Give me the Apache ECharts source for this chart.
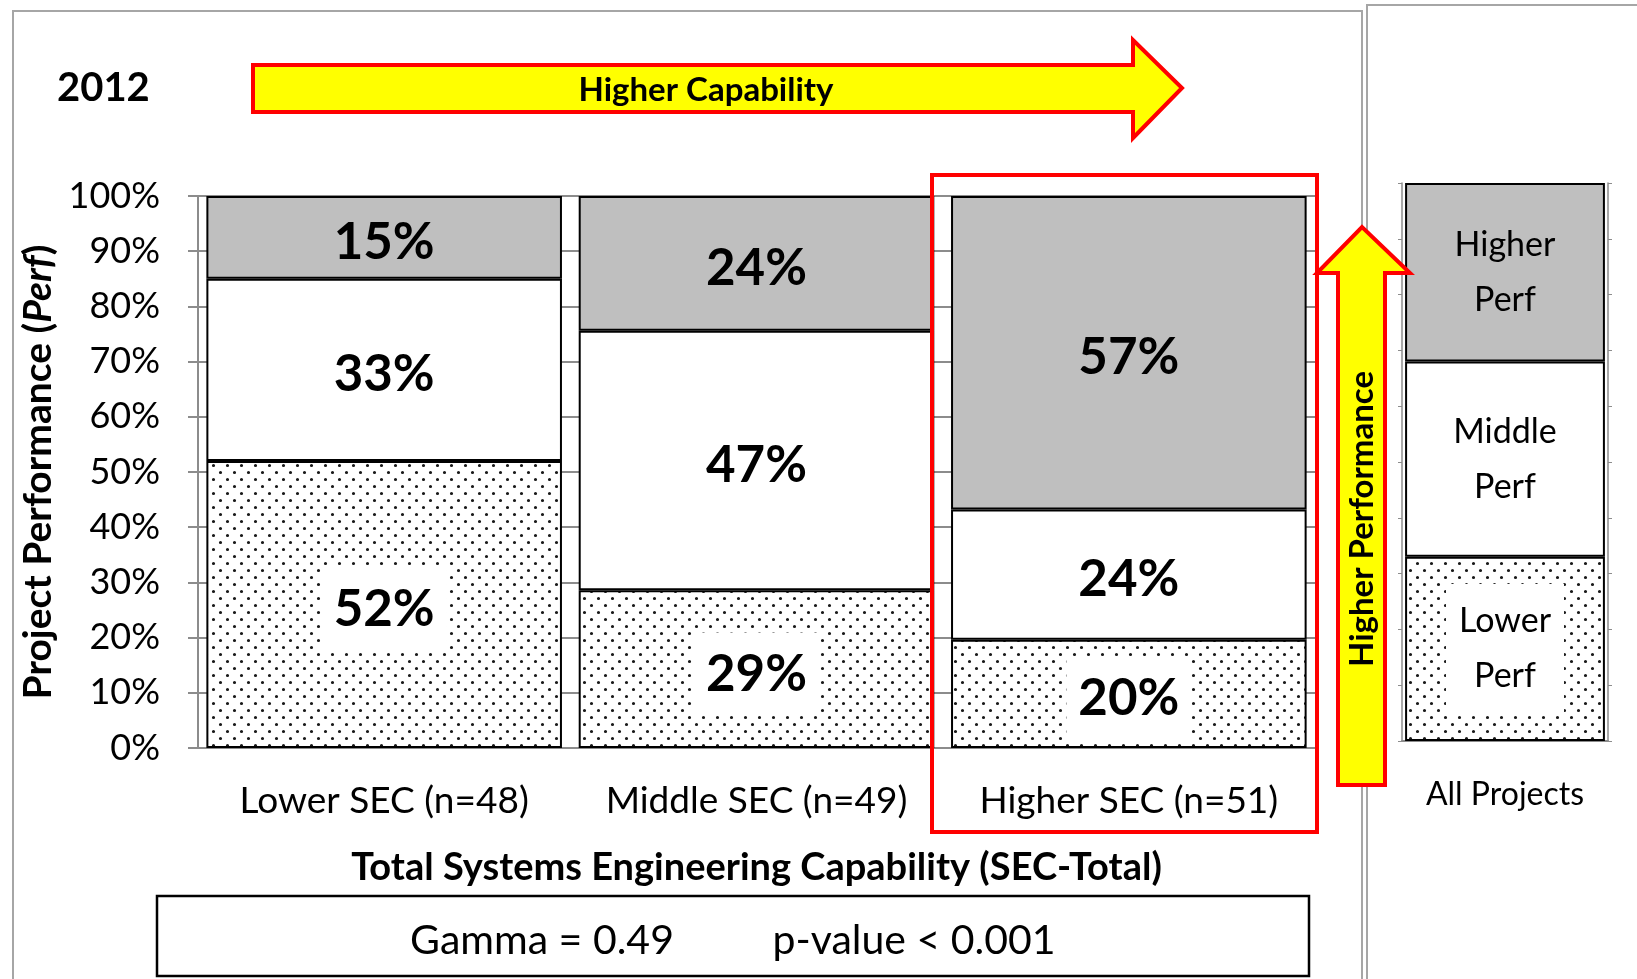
<!DOCTYPE html>
<html>
<head>
<meta charset="utf-8">
<script src="https://cdn.jsdelivr.net/npm/echarts@6/dist/echarts.min.js"></script>
<style>
  body { margin: 0; background: #fff; }
  #chart { width: 1637px; height: 979px; }
</style>
</head>
<body>
<div id="chart"></div>
<script>
  // SEC groups and the share of projects in each performance band (%)
  const categories = ['Lower SEC (n=48)', 'Middle SEC (n=49)', 'Higher SEC (n=51)'];
  const lowerPerf = [52, 28.6, 19.6];
  const middlePerf = [33, 47, 23.6];
  const higherPerf = [15, 24.4, 56.8];

  const allCategories = ['All Projects'];
  const allLower = [33];
  const allMiddle = [35];
  const allHigher = [32];
  const allLabels = ['Lower\nPerf', 'Middle\nPerf', 'Higher\nPerf'];

  const font = 'Lato';
  const gray = '#8c8c8c';

  // dotted fill used for the lower performance band
  const dots = document.createElement('canvas');
  dots.width = 14;
  dots.height = 14;
  const ctx = dots.getContext('2d');
  ctx.fillStyle = '#fff';
  ctx.fillRect(0, 0, 14, 14);
  ctx.fillStyle = '#1a1a1a';
  ctx.beginPath();
  ctx.arc(3.5, 3.5, 1.6, 0, Math.PI * 2);
  ctx.arc(10.5, 10.5, 1.6, 0, Math.PI * 2);
  ctx.fill();
  const dotted = { image: dots, repeat: 'repeat' };

  const pctLabel = (bg) => ({
    show: true,
    position: 'inside',
    offset: [0, 5],
    formatter: (p) => Math.round(p.value) + '%',
    fontFamily: font,
    fontSize: 51,
    fontWeight: 'bold',
    color: '#000',
    backgroundColor: bg,
    padding: [16, 12]
  });

  const textLabel = (bg, pad) => ({
    show: true,
    position: 'inside',
    formatter: (p) => allLabels[p.seriesIndex - 3],
    fontFamily: font,
    fontSize: 34,
    lineHeight: 55,
    color: '#000',
    backgroundColor: bg,
    padding: pad
  });

  const barStyle = (color) => ({ color: color, borderColor: '#000', borderWidth: 2 });

  const options = {
    backgroundColor: '#fff',
    animation: false,
    grid: [
      { left: 198, top: 196, width: 1117, height: 552 },
      { left: 1402, top: 183, width: 206, height: 558 }
    ],
    xAxis: [
      {
        type: 'category',
        gridIndex: 0,
        data: categories,
        axisLine: { lineStyle: { color: gray, width: 2 } },
        axisTick: { length: 12, lineStyle: { color: gray, width: 2 } },
        axisLabel: { interval: 0, hideOverlap: false, margin: 35, fontFamily: font, fontSize: 37, color: '#000' },
        name: 'Total Systems Engineering Capability (SEC-Total)',
        nameLocation: 'middle',
        nameGap: 101,
        nameTextStyle: { fontFamily: font, fontSize: 38, fontWeight: 'bold', color: '#000' }
      },
      {
        type: 'category',
        gridIndex: 1,
        data: allCategories,
        axisLine: { lineStyle: { color: gray, width: 2 } },
        axisTick: { length: 14, lineStyle: { color: gray, width: 2 } },
        axisLabel: { interval: 0, margin: 38, fontFamily: font, fontSize: 32, color: '#000' }
      }
    ],
    yAxis: [
      {
        type: 'value',
        gridIndex: 0,
        min: 0,
        max: 100,
        interval: 10,
        axisLine: { show: true, lineStyle: { color: gray, width: 2 } },
        axisTick: { show: true, length: 10, lineStyle: { color: gray, width: 2 } },
        splitLine: { lineStyle: { color: gray, width: 2 } },
        axisLabel: { formatter: '{value}%', margin: 38, fontFamily: font, fontSize: 36, color: '#000' },
        name: 'Project Performance ({i|Perf})',
        nameLocation: 'middle',
        nameRotate: 90,
        nameGap: 129,
        nameTextStyle: {
          fontFamily: font,
          fontSize: 39,
          fontWeight: 'bold',
          color: '#000',
          rich: { i: { fontFamily: font, fontSize: 39, fontWeight: 'bold', fontStyle: 'italic', color: '#000' } }
        }
      },
      {
        type: 'value',
        gridIndex: 1,
        min: 0,
        max: 100,
        interval: 10,
        axisLine: { show: true, lineStyle: { color: gray, width: 1.5 } },
        axisTick: { show: true, length: 4, lineStyle: { color: gray } },
        splitLine: { show: false },
        axisLabel: { show: false }
      },
      {
        type: 'value',
        gridIndex: 1,
        position: 'right',
        min: 0,
        max: 100,
        interval: 10,
        axisLine: { show: true, lineStyle: { color: gray, width: 1.5 } },
        axisTick: { show: true, length: 4, lineStyle: { color: gray } },
        splitLine: { show: false },
        axisLabel: { show: false }
      }
    ],
    series: [
      {
        name: 'Lower Perf', type: 'bar', stack: 'sec', barCategoryGap: '4.5%',
        data: lowerPerf, itemStyle: barStyle(dotted), label: pctLabel('#fff')
      },
      {
        name: 'Middle Perf', type: 'bar', stack: 'sec',
        data: middlePerf, itemStyle: barStyle('#fff'), label: pctLabel(null)
      },
      {
        name: 'Higher Perf', type: 'bar', stack: 'sec',
        data: higherPerf, itemStyle: barStyle('#bfbfbf'), label: pctLabel(null)
      },
      {
        name: 'All Lower', type: 'bar', stack: 'all', xAxisIndex: 1, yAxisIndex: 1, barCategoryGap: '3%',
        data: allLower, itemStyle: barStyle(dotted), label: textLabel('#fff', [10, 13])
      },
      {
        name: 'All Middle', type: 'bar', stack: 'all', xAxisIndex: 1, yAxisIndex: 1,
        data: allMiddle, itemStyle: barStyle('#fff'), label: textLabel(null, 0)
      },
      {
        name: 'All Higher', type: 'bar', stack: 'all', xAxisIndex: 1, yAxisIndex: 1,
        data: allHigher, itemStyle: barStyle('#bfbfbf'), label: textLabel(null, 0)
      }
    ],
    graphic: [
      // panel frames
      { type: 'rect', shape: { x: 13, y: 11, width: 1349, height: 1000 }, style: { fill: null, stroke: '#a6a6a6', lineWidth: 2 }, z: 1 },
      { type: 'rect', shape: { x: 1367, y: 5, width: 300, height: 1000 }, style: { fill: null, stroke: '#a6a6a6', lineWidth: 2 }, z: 1 },
      { type: 'text', left: 57, top: 68, style: { text: '2012', fontFamily: font, fontSize: 40, fontWeight: 'bold', fill: '#000' } },
      // higher capability arrow
      {
        type: 'polygon', z: 10,
        shape: { points: [[253, 65], [1133, 65], [1133, 40], [1182, 88], [1133, 138], [1133, 112], [253, 112]] },
        style: { fill: '#ffff00', stroke: '#ff0000', lineWidth: 4 }
      },
      {
        type: 'text', z: 11, x: 706, y: 90,
        style: { text: 'Higher Capability', align: 'center', verticalAlign: 'middle', fontFamily: font, fontSize: 33, fontWeight: 'bold', fill: '#000' }
      },
      // highlight box around higher SEC
      {
        type: 'rect', z: 10,
        shape: { x: 932, y: 175, width: 385, height: 657 },
        style: { fill: null, stroke: '#ff0000', lineWidth: 4 }
      },
      // higher performance arrow
      {
        type: 'polygon', z: 10,
        shape: { points: [[1338, 785], [1338, 273], [1317, 273], [1362, 227], [1410, 273], [1385, 273], [1385, 785]] },
        style: { fill: '#ffff00', stroke: '#ff0000', lineWidth: 4 }
      },
      {
        type: 'text', z: 11, x: 1362, y: 519, rotation: Math.PI / 2,
        style: { text: 'Higher Performance', align: 'center', verticalAlign: 'middle', fontFamily: font, fontSize: 33, fontWeight: 'bold', fill: '#000' }
      },
      // statistics box
      {
        type: 'rect', z: 10,
        shape: { x: 157, y: 896, width: 1152, height: 80 },
        style: { fill: '#fff', stroke: '#000', lineWidth: 2.5 }
      },
      {
        type: 'text', z: 11, x: 542, y: 941,
        style: { text: 'Gamma = 0.49', align: 'center', verticalAlign: 'middle', fontFamily: font, fontSize: 41, fill: '#000' }
      },
      {
        type: 'text', z: 11, x: 914, y: 941,
        style: { text: 'p-value < 0.001', align: 'center', verticalAlign: 'middle', fontFamily: font, fontSize: 41, fill: '#000' }
      }
    ]
  };

  const myChart = echarts.init(document.getElementById('chart'));
  myChart.setOption(options);
</script>
</body>
</html>
